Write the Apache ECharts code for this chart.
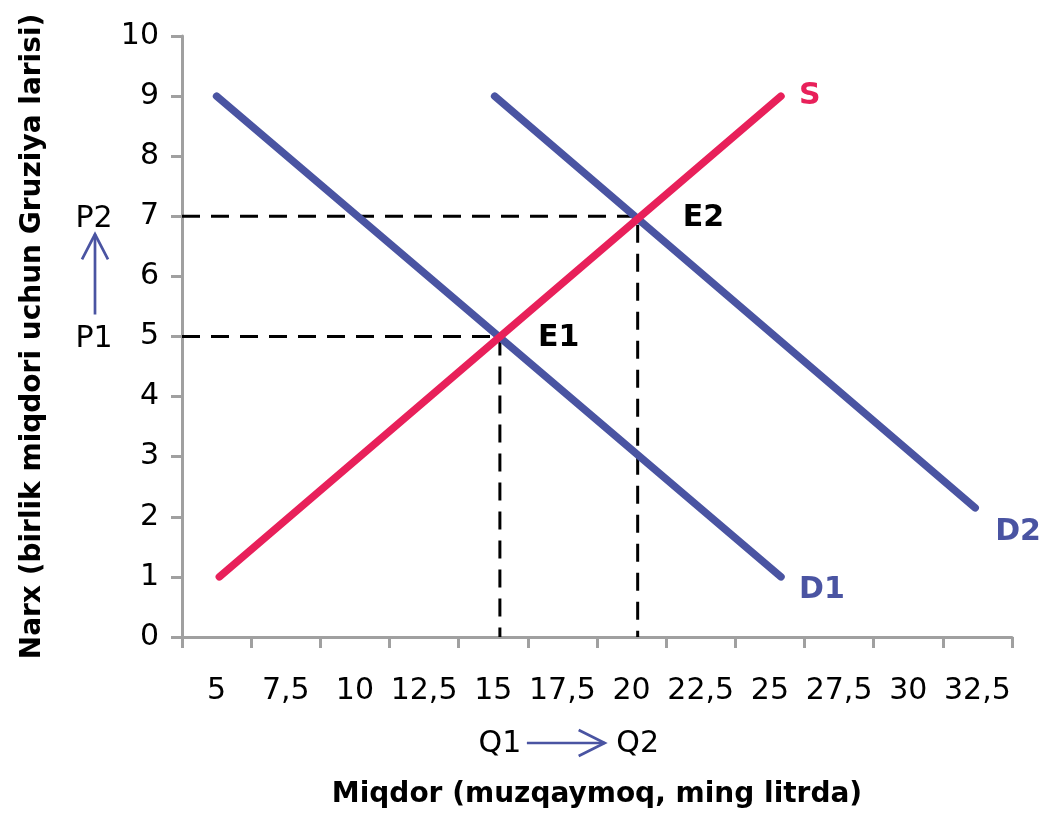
<!DOCTYPE html>
<html>
<head>
<meta charset="utf-8">
<script src="https://cdn.jsdelivr.net/npm/echarts@6/dist/echarts.min.js"></script>
<style>
  html, body { margin: 0; padding: 0; background: #ffffff; }
  #chart { width: 1039px; height: 814px; }
</style>
</head>
<body>
<div id="chart"></div>
<script>
// ---- data ----
const categories = ['5', '7,5', '10', '12,5', '15', '17,5', '20', '22,5', '25', '27,5', '30', '32,5'];
const xMin = 3.75, xMax = 33.75;           // value range spanned by the 12 category bands
const supplyX = [5.1, 25.4];
const supplyY = [1, 9];
const demand1X = [5.0, 25.4];
const demand1Y = [9, 1];
const demand2X = [15.05, 32.42];
const demand2Y = [9, 2.15];
const equilibriumX = [15.24, 20.22];
const equilibriumY = [5, 7];
const equilibriumNames = ['E1', 'E2'];
const priceNames = ['P1', 'P2'];
const quantityNames = ['Q1', 'Q2'];
const xTitle = 'Miqdor (muzqaymoq, ming litrda)';
const yTitle = 'Narx (birlik miqdori uchun Gruziya larisi)';

// ---- styles ----
const FONT = 'DejaVu Sans';
const BLUE = '#4A54A2';
const RED = '#E8205A';
const GRAY = '#A0A0A0';

const pairs = (xs, ys) => xs.map((x, i) => [x, ys[i]]);

const guideSeries = equilibriumX.map((x, i) => ({
  type: 'line',
  xAxisIndex: 1, yAxisIndex: 0,
  data: [[xMin, equilibriumY[i]], [x, equilibriumY[i]], [x, 0]],
  symbol: 'none',
  lineStyle: { color: '#000', width: 3, type: [18, 11] },
  z: 1,
  silent: true
}));

function lineSeries(name, xs, ys, color, labelOffset, dist) {
  return {
    type: 'line',
    name: name,
    xAxisIndex: 1, yAxisIndex: 0,
    data: pairs(xs, ys),
    symbol: 'none',
    lineStyle: { color: color, width: 7.5, cap: 'round' },
    endLabel: {
      show: true,
      formatter: name,
      color: color,
      fontFamily: FONT,
      fontSize: 30,
      fontWeight: 'bold',
      distance: dist,
      offset: labelOffset
    },
    z: 3,
    silent: true
  };
}

const option = {
  animation: false,
  backgroundColor: '#ffffff',
  grid: { left: 182, right: 27, top: 36, bottom: 176 },
  xAxis: [
    {
      type: 'category',
      data: categories,
      boundaryGap: true,
      axisLine: { show: true, lineStyle: { color: GRAY, width: 3 } },
      axisTick: { show: true, length: 11, lineStyle: { color: GRAY, width: 3 } },
      axisLabel: { interval: 0, color: '#000', fontFamily: FONT, fontSize: 30, margin: 39 },
      splitLine: { show: false },
      name: xTitle,
      nameLocation: 'middle',
      nameGap: 144,
      nameTextStyle: { color: '#000', fontFamily: FONT, fontSize: 28, fontWeight: 'bold' }
    },
    {
      type: 'value',
      min: xMin,
      max: xMax,
      show: false
    }
  ],
  yAxis: {
    type: 'value',
    min: 0,
    max: 10,
    interval: 1,
    axisLine: { show: true, lineStyle: { color: GRAY, width: 3 } },
    axisTick: { show: true, length: 11, lineStyle: { color: GRAY, width: 3 } },
    axisLabel: { color: '#000', fontFamily: FONT, fontSize: 30, margin: 23, padding: [6, 0, 0, 0] },
    splitLine: { show: false },
    name: yTitle,
    nameLocation: 'middle',
    nameGap: 135,
    nameTextStyle: { color: '#000', fontFamily: FONT, fontSize: 28, fontWeight: 'bold' }
  },
  series: [
    ...guideSeries,
    lineSeries('D1', demand1X, demand1Y, BLUE, [0, 13], 18),
    lineSeries('D2', demand2X, demand2Y, BLUE, [0, 24], 20),
    lineSeries('S', supplyX, supplyY, RED, [0, 0], 18)
  ]
};

const chart = echarts.init(document.getElementById('chart'), null, { renderer: 'canvas' });
chart.setOption(option);

// ---- annotations anchored to the equilibrium values ----
(function annotate() {
  const sIdx = guideSeries.length; // any series on the value x axis
  const toPx = (x, y) => chart.convertToPixel({ seriesIndex: sIdx }, [x, y]);
  const gridLeftPx = toPx(xMin, 0)[0];
  const axisBottomPx = toPx(xMin, 0)[1];
  const pY = equilibriumY.map(v => toPx(xMin, v)[1]);
  const qX = equilibriumX.map(v => toPx(v, 0)[0]);
  const ePts = equilibriumX.map((x, i) => toPx(x, equilibriumY[i]));
  const eGap = [38, 45];
  const pTextX = gridLeftPx - 88;
  const qTextY = axisBottomPx + 107;
  const graphic = [];
  equilibriumNames.forEach((t, i) => graphic.push({
    type: 'text', x: ePts[i][0] + eGap[i], y: ePts[i][1] + 2, silent: true, z: 10,
    style: { text: t, fill: '#000', fontFamily: FONT, fontSize: 30, fontWeight: 'bold', align: 'left', verticalAlign: 'middle' }
  }));
  priceNames.forEach((t, i) => graphic.push({
    type: 'text', x: pTextX, y: pY[i] + 3, silent: true,
    style: { text: t, fill: '#000', fontFamily: FONT, fontSize: 30, align: 'center', verticalAlign: 'middle' }
  }));
  quantityNames.forEach((t, i) => graphic.push({
    type: 'text', x: qX[i], y: qTextY, silent: true,
    style: { text: t, fill: '#000', fontFamily: FONT, fontSize: 30, align: 'center', verticalAlign: 'middle' }
  }));
  // vertical arrow P1 -> P2
  const ax = pTextX + 1;
  const aBottom = pY[0] - 22, aTop = pY[1] + 18;
  graphic.push({ type: 'polyline', silent: true, shape: { points: [[ax, aBottom], [ax, aTop]] },
    style: { stroke: BLUE, lineWidth: 2.7, fill: null } });
  graphic.push({ type: 'polyline', silent: true, shape: { points: [[ax - 13, aTop + 25], [ax, aTop], [ax + 13, aTop + 25]] },
    style: { stroke: BLUE, lineWidth: 2.7, fill: null } });
  // horizontal arrow Q1 -> Q2
  const ay = qTextY - 1;
  const aLeft = qX[0] + 27, aRight = qX[1] - 33;
  graphic.push({ type: 'polyline', silent: true, shape: { points: [[aLeft, ay], [aRight, ay]] },
    style: { stroke: BLUE, lineWidth: 2.7, fill: null } });
  graphic.push({ type: 'polyline', silent: true, shape: { points: [[aRight - 26, ay - 13], [aRight, ay], [aRight - 26, ay + 13]] },
    style: { stroke: BLUE, lineWidth: 2.7, fill: null } });
  chart.setOption({ graphic: graphic });
})();
</script>
</body>
</html>
